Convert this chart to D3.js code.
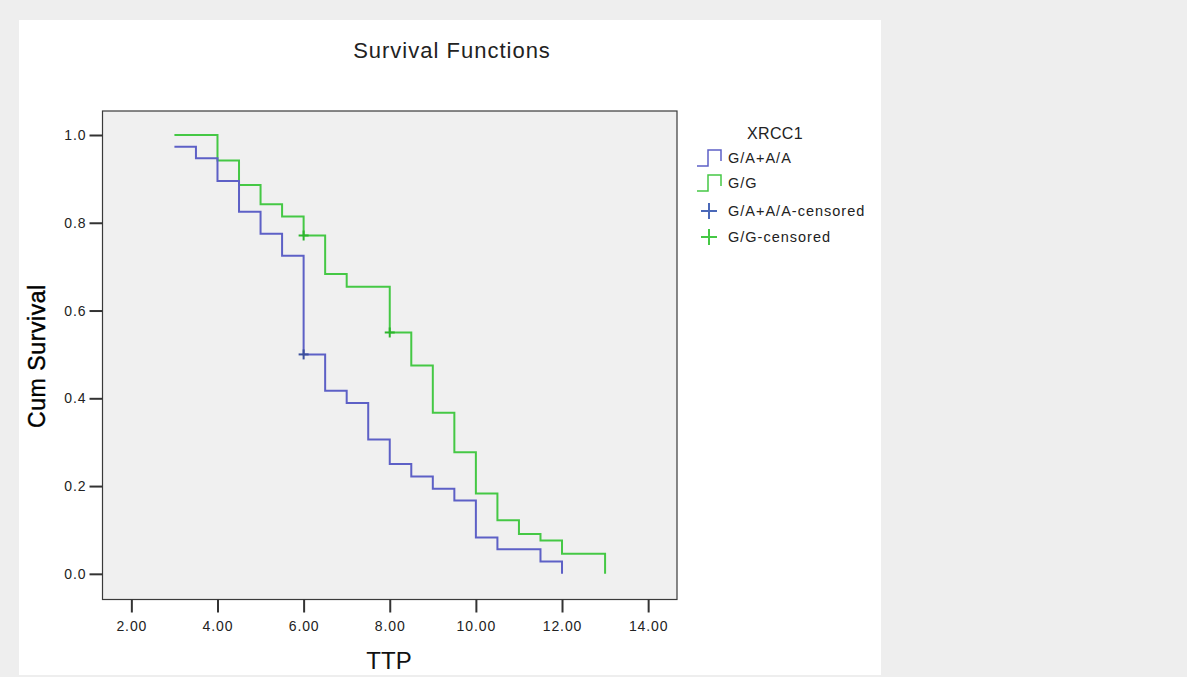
<!DOCTYPE html>
<html>
<head>
<meta charset="utf-8">
<script src="https://cdn.jsdelivr.net/npm/d3@7"></script>
<style>
  body { margin: 0; background: #eeeeee; }
  svg { display: block; }
  svg text { font-family: "Liberation Sans", Arial, sans-serif; }
</style>
</head>
<body>
<div id="chart"></div>
<script>
// step points: time, cum survival
const blueTimes = [3.0, 3.5, 4.0, 4.5, 5.0, 5.5, 6.0, 6.5, 7.0, 7.5, 8.0, 8.5, 9.0, 9.5, 10.0, 10.5, 11.5, 12.0]
const blueSurv  = [0.973, 0.947, 0.895, 0.825, 0.775, 0.725, 0.5, 0.417, 0.389, 0.306, 0.25, 0.222, 0.194, 0.167, 0.083, 0.056, 0.028, 0.0]
const greenTimes = [3.0, 4.0, 4.5, 5.0, 5.5, 6.0, 6.5, 7.0, 8.0, 8.5, 9.0, 9.5, 10.0, 10.5, 11.0, 11.5, 12.0, 13.0]
const greenSurv  = [1.0, 0.942, 0.886, 0.842, 0.814, 0.771, 0.683, 0.654, 0.55, 0.475, 0.367, 0.277, 0.183, 0.122, 0.091, 0.076, 0.046, 0.0]
// censored marks
const blueCensT = [6.0]
const blueCensS = [0.5]
const greenCensT = [6.0, 8.0]
const greenCensS = [0.771, 0.55]

const xTicks = [2, 4, 6, 8, 10, 12, 14]
const yTicks = [0, 0.2, 0.4, 0.6, 0.8, 1.0]
const legendLabels = ["G/A+A/A", "G/G", "G/A+A/A-censored", "G/G-censored"]

const blue = "#5d60c6"
const green = "#45c845"

let width = 1187
let height = 677

let svg = d3.select("#chart")
  .append("svg")
  .attr("width", width)
  .attr("height", height)

// white panel
svg.append("rect")
  .attr("x", 19).attr("y", 20)
  .attr("width", 862).attr("height", 655)
  .attr("fill", "#ffffff")

// plot frame
let pLeft = 102.5, pRight = 677, pTop = 111, pBottom = 599.5

let x = d3.scaleLinear().domain([1.33, 14.67]).range([pLeft, pRight])
let y = d3.scaleLinear().domain([-0.0585, 1.0]).range([pBottom, 135])

svg.append("rect")
  .attr("x", pLeft).attr("y", pTop)
  .attr("width", pRight - pLeft).attr("height", pBottom - pTop)
  .attr("fill", "#f0f0f0")
  .attr("stroke", "#3a3a3a")
  .attr("stroke-width", 1.2)

// title
svg.append("text")
  .attr("x", 452)
  .attr("y", 58)
  .attr("text-anchor", "middle")
  .style("font-size", "22px")
  .style("letter-spacing", "1px")
  .attr("fill", "#222")
  .text("Survival Functions")

// axes
let xAxis = svg.append("g")
  .attr("transform", `translate(0,${pBottom})`)
  .call(d3.axisBottom(x).tickValues(xTicks).tickSize(13).tickPadding(9).tickFormat(d3.format(".2f")))
xAxis.attr("font-family", null)
xAxis.select(".domain").remove()
xAxis.selectAll("line").attr("stroke", "#333").attr("stroke-width", 2)
xAxis.selectAll("text").style("font-size", "14px").style("letter-spacing", "0.9px").attr("fill", "#222")

let yAxis = svg.append("g")
  .attr("transform", `translate(${pLeft},0)`)
  .call(d3.axisLeft(y).tickValues(yTicks).tickSize(13).tickPadding(3).tickFormat(d3.format(".1f")))
yAxis.attr("font-family", null)
yAxis.select(".domain").remove()
yAxis.selectAll("line").attr("stroke", "#333").attr("stroke-width", 2)
yAxis.selectAll("text").style("font-size", "14px").style("letter-spacing", "0.9px").attr("fill", "#222")

// axis labels
svg.append("text")
  .attr("x", 389)
  .attr("y", 669)
  .attr("text-anchor", "middle")
  .style("font-size", "24px")
  .attr("fill", "#111")
  .text("TTP")

svg.append("text")
  .attr("transform", "translate(45,356) rotate(-90)")
  .attr("text-anchor", "middle")
  .style("font-size", "23px")
  .style("letter-spacing", "0.6px")
  .attr("fill", "#000")
  .attr("stroke", "#000")
  .attr("stroke-width", 0.4)
  .text("Cum Survival")

// step curves
function stepPoints(times, surv) {
  return times.map((t, i) => [t, surv[i]])
}
let line = d3.line()
  .x(d => x(d[0]))
  .y(d => y(d[1]))
  .curve(d3.curveStepAfter)

// green drawn first so blue is on top where they overlap
let series = [
  { pts: stepPoints(greenTimes, greenSurv), color: green },
  { pts: stepPoints(blueTimes, blueSurv), color: blue }
]
series.forEach(s => {
  svg.append("path")
    .datum(s.pts)
    .attr("d", line)
    .attr("fill", "none")
    .attr("stroke", s.color)
    .attr("stroke-width", 2)
})

// censored marks
function plus(g, cx, cy, size, color) {
  g.append("line").attr("x1", cx - size).attr("x2", cx + size).attr("y1", cy).attr("y2", cy)
    .attr("stroke", color).attr("stroke-width", 2)
  g.append("line").attr("x1", cx).attr("x2", cx).attr("y1", cy - size).attr("y2", cy + size)
    .attr("stroke", color).attr("stroke-width", 2)
}
let marks = svg.append("g")
blueCensT.forEach((t, i) => plus(marks, x(t), y(blueCensS[i]), 5, "#3b4f9c"))
greenCensT.forEach((t, i) => plus(marks, x(t), y(greenCensS[i]), 5, "#2cb52c"))

// legend
let lg = svg.append("g")
lg.append("text")
  .attr("x", 775).attr("y", 139)
  .attr("text-anchor", "middle")
  .style("font-size", "16px")
  .style("letter-spacing", "0.4px")
  .attr("fill", "#222")
  .text("XRCC1")

let rowY = [158, 183, 211, 237]
let legColors = [blue, green, "#4a68b8", "#45c845"]
legendLabels.forEach((lab, i) => {
  let yy = rowY[i]
  if (i < 2) {
    lg.append("path")
      .attr("d", `M697,${yy + 8} H708 V${yy - 8} H721 V${yy + 3}`)
      .attr("fill", "none")
      .attr("stroke", legColors[i])
      .attr("stroke-width", 1.5)
  } else {
    plus(lg, 709, yy, 8, legColors[i])
  }
  lg.append("text")
    .attr("x", 728).attr("y", yy + 5)
    .style("font-size", "14.5px")
    .style("letter-spacing", "1px")
    .attr("fill", "#222")
    .text(lab)
})
</script>
</body>
</html>
